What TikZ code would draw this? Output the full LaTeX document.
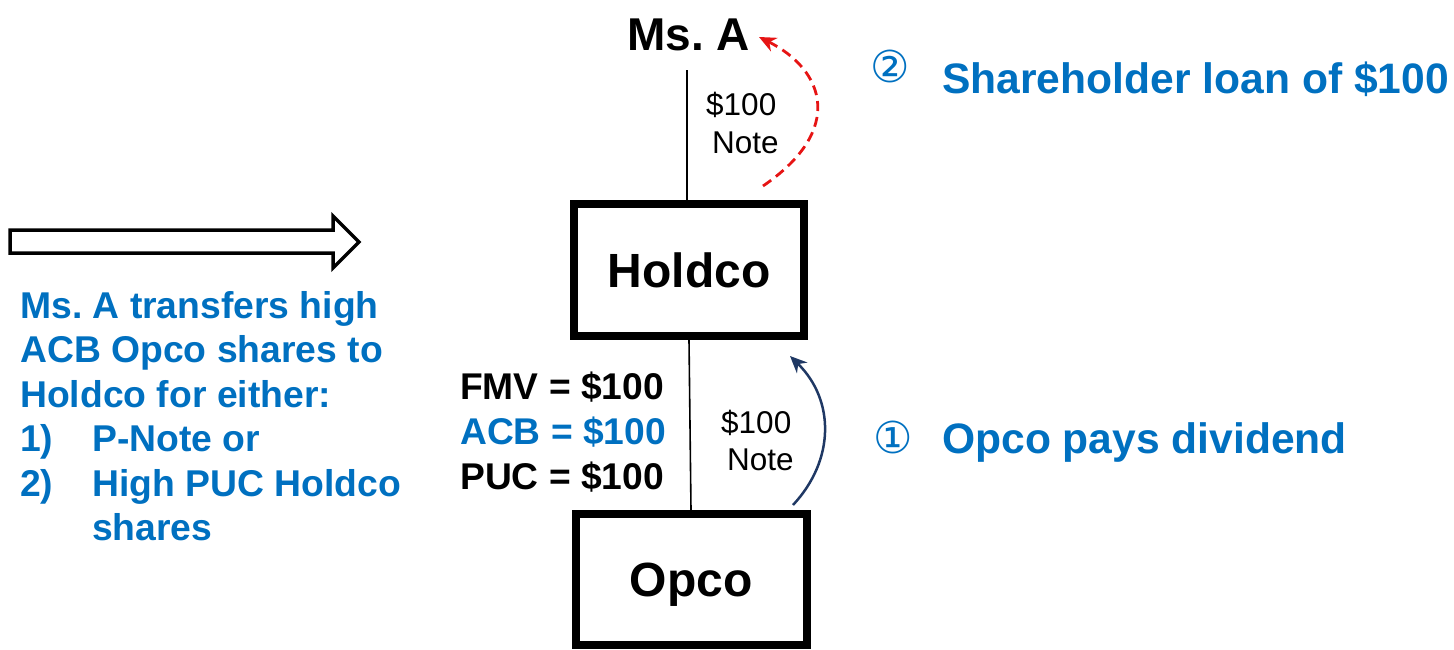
\documentclass[tikz,border=0pt]{standalone}
\usepackage{fontspec}
\setmainfont{Liberation Sans}
\newfontfamily\symfont{DejaVu Sans}
\usetikzlibrary{arrows.meta}
\definecolor{bluetxt}{HTML}{0070C0}
\definecolor{navy}{RGB}{31,56,100}
\definecolor{redarr}{RGB}{230,20,20}
\frenchspacing
\begin{document}
\begin{tikzpicture}[x=1pt,y=-1pt,
  txt/.style={inner sep=0pt,anchor=base west},
  entity/.style={draw,line width=8pt,minimum width=230pt,minimum height=132pt,inner sep=0pt,text depth=0pt,font=\fontsize{48}{52}\selectfont\bfseries},
  bluebold/.style={txt,text=bluetxt,font=\fontsize{37.3}{40}\selectfont\bfseries},
  blackbold/.style={txt,font=\fontsize{37.2}{40}\selectfont\bfseries},
  notetxt/.style={txt,font=\fontsize{31.5}{34}\selectfont},
  steplabel/.style={txt,text=bluetxt,font=\fontsize{42.6}{46}\selectfont\bfseries},
  circnum/.style={inner sep=0pt,text=bluetxt,font=\symfont\fontsize{44}{46}\selectfont}]
\useasboundingbox (0,0) rectangle (1454,649);
% entities
\node[entity] (holdco) at (689,270) {Holdco};
\node[entity,minimum width=231pt,minimum height=131pt] (opco) at (691,579.5) {Opco};
\node[txt,font=\fontsize{46}{50}\selectfont\bfseries] (msa) at (627,50) {Ms. A};
% connectors
\coordinate (topend) at (687,70);
\draw[line width=1.6pt] (topend) -- (topend |- holdco.north);
\draw[line width=1.6pt] (holdco.south) -- (opco.north);
% notes
\node[notetxt] (n1a) at (706,115) {\$100};
\node[notetxt] (n1b) at (712,153) {Note};
\node[notetxt] (n2a) at (721,433) {\$100};
\node[notetxt] (n2b) at (727,470) {Note};
% FMV etc
\node[blackbold] (fmv) at (460,399) {FMV = \$100};
\node[txt,text=bluetxt,font=\fontsize{37.2}{40}\selectfont\bfseries] (acb) at (460,444) {ACB = \$100};
\node[blackbold] (puc) at (460,489) {PUC = \$100};
% curved arrows
\coordinate (r1) at (763,186);
\coordinate (r2) at (759,37);
\draw[redarr,dashed,dash pattern=on 10pt off 6pt,line width=2.8pt,-{Stealth[length=17pt,width=15pt]}]
  (r1) .. controls (845,130) and (825,70) .. (r2);
\coordinate (b1) at (793,505);
\coordinate (b2) at (790,356);
\draw[navy,line width=2.5pt,-{Stealth[length=17pt,width=15pt]}]
  (b1) .. controls (835,460) and (835,400) .. (b2);
% step labels
\node[circnum] (c2) at (890,66) {②};
\node[steplabel] (s2) at (942,93) {Shareholder loan of \$100};
\node[circnum] (c1) at (893,437) {①};
\node[steplabel] (s1) at (942,453) {Opco pays dividend};
% big hollow arrow
\draw[line width=3.5pt,line join=miter] (10,230) -- (333,230) -- (333,216) -- (359,242) -- (333,268) -- (333,253) -- (10,253) -- cycle;
% left text
\node[bluebold] (l1) at (20,318) {Ms. A transfers high};
\node[bluebold] (l2) at (20,362) {ACB Opco shares to};
\node[bluebold] (l3) at (20,407) {Holdco for either:};
\node[bluebold] (l4a) at (20,451) {1)};
\node[bluebold] (l4b) at (92,451) {P-Note or};
\node[bluebold] (l5a) at (20,496) {2)};
\node[bluebold] (l5b) at (92,496) {High PUC Holdco};
\node[bluebold] (l6) at (92,540) {shares};
\end{tikzpicture}
\end{document}
